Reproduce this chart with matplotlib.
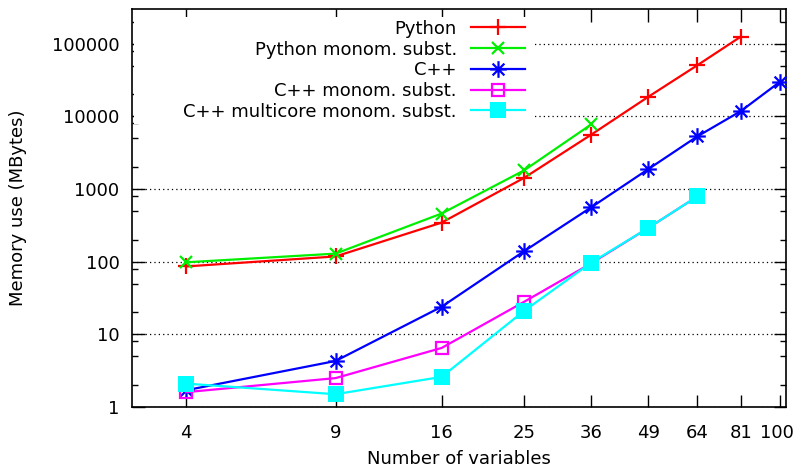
import numpy as np
import matplotlib
matplotlib.use("Agg")
import matplotlib.pyplot as plt
import matplotlib.transforms as mtransforms
from matplotlib.path import Path
from matplotlib.patches import Rectangle
from matplotlib.ticker import FixedLocator, NullFormatter

# data
n_vars = [4, 9, 16, 25, 36, 49, 64, 81, 100]
python_mem = [86, 118, 345, 1420, 5600, 18500, 50500, 125000]
python_monom = [98, 129, 460, 1800, 7750]
cpp_mem = [1.7, 4.3, 24, 139, 560, 1870, 5300, 11800, 29700]
cpp_monom = [1.6, 2.5, 6.5, 28, 95, 290, 790]
cpp_multicore = [2.1, 1.5, 2.6, 21, 97, 290, 790]

xticks = [4, 9, 16, 25, 36, 49, 64, 81, 100]
yticks = [1, 10, 100, 1000, 10000, 100000]

plt.rcParams['font.family'] = 'DejaVu Sans'
plt.rcParams['font.size'] = 13

# gnuplot style asterisk (+ and x together)
r = 0.7071
star = Path([(-1, 0), (1, 0), (0, -1), (0, 1), (-r, -r), (r, r), (-r, r), (r, -r)],
            [Path.MOVETO, Path.LINETO] * 4)

fig = plt.figure(figsize=(7.94, 4.68), dpi=100)
ax = fig.add_axes([0.1662, 0.1303, 0.8238, 0.8505])

lw = 1.6
ax.plot(n_vars[:len(python_mem)], python_mem, color='#ff0000', lw=lw, marker='+',
        markersize=12, markeredgewidth=1.6, label='Python', zorder=3)
ax.plot(n_vars[:len(python_monom)], python_monom, color='#00ee00', lw=lw, marker='x',
        markersize=9, markeredgewidth=1.6, label='Python monom. subst.', zorder=3)
ax.plot(n_vars[:len(cpp_mem)], cpp_mem, color='#0000ff', lw=lw, marker=star,
        markersize=12, markeredgewidth=1.6, fillstyle='none', label='C++', zorder=3)
ax.plot(n_vars[:len(cpp_monom)], cpp_monom, color='#ff00ff', lw=lw, marker='s',
        markersize=9, markeredgewidth=1.6, fillstyle='none', label='C++ monom. subst.', zorder=3)
ax.plot(n_vars[:len(cpp_multicore)], cpp_multicore, color='#00ffff', lw=lw, marker='s',
        markersize=12, markeredgewidth=0, label='C++ multicore monom. subst.', zorder=3)

ax.set_xscale('log')
ax.set_yscale('log')
ax.set_xlim(2.985, 103.5)
ax.set_ylim(1, 3.0e5)

ax.xaxis.set_major_locator(FixedLocator(xticks))
ax.xaxis.set_minor_locator(FixedLocator([]))
ax.set_xticklabels([str(t) for t in xticks])
ax.yaxis.set_major_locator(FixedLocator(yticks))
minor = [m * 10**k for k in range(0, 6) for m in (2, 5, 8)]
ax.yaxis.set_minor_locator(FixedLocator(minor))
ax.yaxis.set_minor_formatter(NullFormatter())
ax.set_yticklabels([str(t) for t in yticks])

ax.tick_params(which='major', direction='in', length=9, width=1, top=True, right=True, pad=9)
ax.tick_params(which='minor', direction='in', length=4.5, width=1, top=False, right=True)
ax.tick_params(axis='x', pad=12)

# keep the last x label inside the picture
last = ax.get_xticklabels()[-1]
last.set_transform(last.get_transform() +
                   mtransforms.ScaledTranslation(-3 / 100, 0, fig.dpi_scale_trans))

ax.grid(axis='y', which='major', color='black', linestyle=(0, (1, 2.5)), linewidth=0.9)
ax.set_axisbelow(True)
for s in ax.spines.values():
    s.set_linewidth(1.2)

# white key area hides the grid behind the legend, as gnuplot does
ax.add_patch(Rectangle((0.003, 0.71), 0.612, 0.27, transform=ax.transAxes,
                       facecolor='white', edgecolor='none', zorder=1.5))

ax.set_xlabel('Number of variables', labelpad=6)
ax.set_ylabel('Memory use (MBytes)', labelpad=18)

leg = ax.legend(loc='upper right', bbox_to_anchor=(0.618, 1.0), markerfirst=False,
                frameon=False, handlelength=3.0, handletextpad=0.8, labelspacing=0.15,
                borderpad=0.3, borderaxespad=0.3)
for t in leg.get_texts():
    t.set_ha('right')

fig.savefig('out.png', dpi=100)
